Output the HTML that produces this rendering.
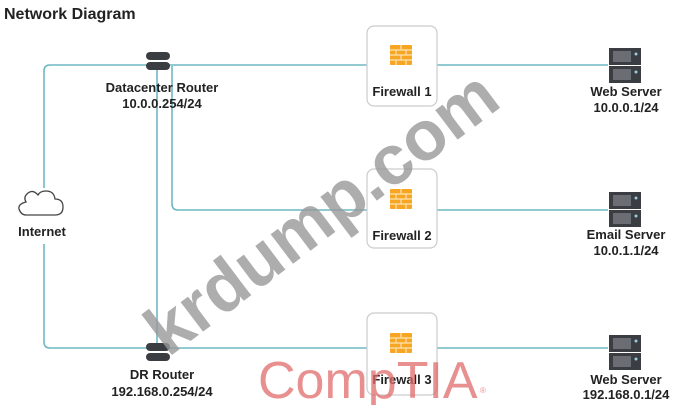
<!DOCTYPE html>
<html><head><meta charset="utf-8"><style>
html,body{margin:0;padding:0;background:#fff;}
svg{display:block;font-family:"Liberation Sans",Arial,sans-serif;}
</style></head><body>
<svg width="684" height="405" viewBox="0 0 684 405" xmlns="http://www.w3.org/2000/svg">
<defs>
<g id="fw">
  <rect x="0" y="0" width="22" height="20" fill="#f6a623" rx="1"/>
  <g stroke="#fde2b0" stroke-width="1.2">
    <line x1="0" y1="5" x2="22" y2="5"/><line x1="0" y1="10" x2="22" y2="10"/><line x1="0" y1="15" x2="22" y2="15"/>
    <line x1="11" y1="0" x2="11" y2="5"/><line x1="6" y1="5" x2="6" y2="10"/><line x1="16" y1="5" x2="16" y2="10"/>
    <line x1="11" y1="10" x2="11" y2="15"/><line x1="6" y1="15" x2="6" y2="20"/><line x1="16" y1="15" x2="16" y2="20"/>
  </g>
</g>
<g id="srv">
  <rect x="0" y="0" width="32" height="17" fill="#3a3d42"/>
  <rect x="0" y="18" width="32" height="17" fill="#3a3d42"/>
  <rect x="4" y="3" width="18" height="11" fill="#6a6e74"/>
  <rect x="4" y="21" width="18" height="11" fill="#6a6e74"/>
  <circle cx="27" cy="6" r="1.5" fill="#9cd"/><circle cx="27" cy="24" r="1.5" fill="#9cd"/>
</g>
<g id="rtr">
  <rect x="-12" y="-9" width="24" height="8" rx="4" fill="#3a3d42"/>
  <rect x="-12" y="1" width="24" height="8" rx="4" fill="#3a3d42"/>
</g>
</defs>
<text x="4" y="19" font-size="16" font-weight="bold" fill="#222">Network Diagram</text>
<g fill="none" stroke="#6fb8c4" stroke-width="1.6">
  <path d="M608 65 H50 Q44 65 44 71 V188"/>
  <path d="M44 244 V342 Q44 348 50 348 H608"/>
  <line x1="157" y1="66" x2="157" y2="348"/>
  <path d="M172 66 V204 Q172 210 178 210 H608"/>
</g>
<use href="#rtr" x="158" y="61"/>
<use href="#rtr" x="158" y="352"/>
<g font-size="13" font-weight="bold" fill="#222" text-anchor="middle">
<text x="162" y="92">Datacenter Router</text>
<text x="162" y="108">10.0.0.254/24</text>
<text x="162" y="379">DR Router</text>
<text x="162" y="396">192.168.0.254/24</text>
<text x="42" y="236">Internet</text>
<text x="626" y="96">Web Server</text>
<text x="626" y="112">10.0.0.1/24</text>
<text x="626" y="239">Email Server</text>
<text x="626" y="255">10.0.1.1/24</text>
<text x="626" y="384">Web Server</text>
<text x="626" y="399">192.168.0.1/24</text>
</g>
<path d="M26 215 H55 Q63 215 63 207 Q63 199 55 199 Q54 191 46 191 Q40 191 38 195 Q33 189 28 193 Q23 197 26 202 Q18 204 19 209 Q21 215 26 215 Z" fill="#fff" stroke="#444" stroke-width="1.3"/>
<g stroke="#ccc" stroke-width="1.2" fill="#fff">
  <rect x="367" y="26" width="70" height="80" rx="7"/>
  <rect x="367" y="169" width="70" height="79" rx="7"/>
  <rect x="367" y="313" width="70" height="82" rx="7"/>
</g>
<use href="#fw" x="390" y="45"/>
<use href="#fw" x="390" y="189"/>
<use href="#fw" x="390" y="333"/>
<g font-size="13" font-weight="bold" fill="#222" text-anchor="middle">
<text x="402" y="96">Firewall 1</text>
<text x="402" y="240">Firewall 2</text>
<text x="402" y="384">Firewall 3</text>
</g>
<use href="#srv" x="609" y="48"/>
<use href="#srv" x="609" y="192"/>
<use href="#srv" x="609" y="335"/>
<text x="0" y="0" font-size="70" font-weight="bold" fill="#999" fill-opacity="0.8" transform="translate(168,358) rotate(-37)">krdump.com</text>
<text x="258" y="398" font-size="52" fill="#e06a6a" fill-opacity="0.75">CompTIA</text>
<text x="480" y="393" font-size="8" fill="#e06a6a" fill-opacity="0.75">®</text>
</svg>
</body></html>
